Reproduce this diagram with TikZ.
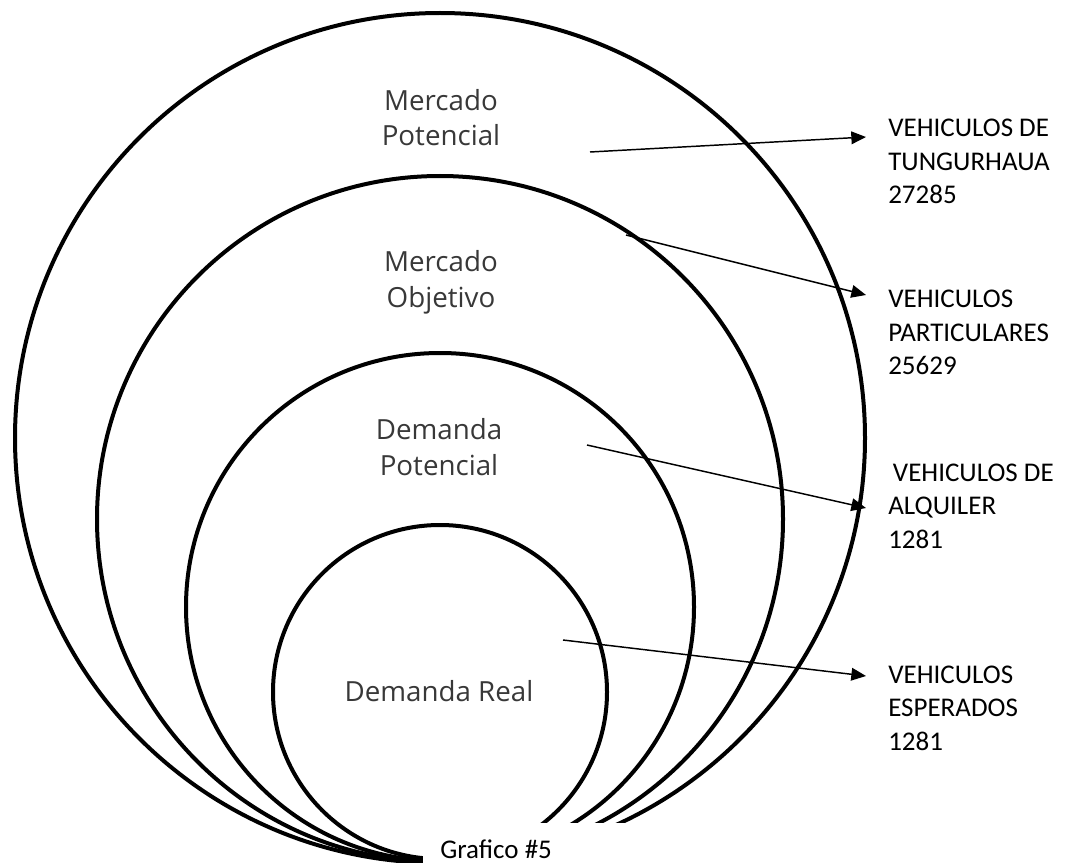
\documentclass[tikz,border=0pt]{standalone}
\usepackage{fontspec}
\setmainfont{Carlito}
\newfontfamily\ringfont{Open Sans}
\usetikzlibrary{arrows.meta}
\begin{document}
\begin{tikzpicture}[x=0.75pt,y=-0.75pt,
  ring/.style={line width=3pt},
  pointer/.style={line width=1.1pt,-{Triangle[length=11pt,width=9.5pt]}},
  ringlabel/.style={font=\ringfont\fontsize{20.8}{26.8}\selectfont, text=black!78,
    align=center, inner sep=0pt, anchor=base},
  sidelabel/.style={font=\fontsize{20.25}{25}\selectfont, align=left,
    inner sep=0pt, anchor=base west}]
\useasboundingbox (0,0) rectangle (1067,863);

% nested market circles, all touching at the bottom
\draw[ring] (440,438) circle[radius=425];
\draw[ring] (440,519) circle[radius=343];
\draw[ring] (440,607) circle[radius=254];
\draw[ring] (440,692) circle[radius=167];

% caption area hides the lower right of the rings
\fill[white] (423,823) rectangle (680,870);
\node[font=\fontsize{20.25}{24}\selectfont, inner sep=0pt, anchor=base west]
  (caption) at (440,858) {Grafico \#5};

% labels inside the rings (anchored on the last line's baseline)
\node[ringlabel] (mp) at (441,146) {Mercado\\Potencial};
\node[ringlabel] (mo) at (441,307.5) {Mercado\\Objetivo};
\node[ringlabel] (dp) at (439,475) {Demanda\\Potencial};
\node[ringlabel] (dr) at (439,701) {Demanda Real};

% figures on the right (anchored on the last line's baseline)
\node[sidelabel] (la) at (888,203.6) {VEHICULOS DE\\TUNGURHAUA\\27285};
\node[sidelabel] (lb) at (888,374.6) {VEHICULOS\\PARTICULARES\\25629};
\node[sidelabel] (lc) at (888,548.3) {\hspace*{3.5pt}VEHICULOS DE\\ALQUILER\\1281};
\node[sidelabel] (ld) at (888,750) {VEHICULOS\\ESPERADOS\\1281};

% pointer ends
\coordinate (s1) at (590,152);
\coordinate (e1) at (866,137);
\coordinate (s2) at (626,235);
\coordinate (e2) at (866,295);
\coordinate (s3) at (587,445);
\coordinate (e3) at (866,508);
\coordinate (s4) at (563,640);
\coordinate (e4) at (866,676);

\draw[pointer] (s1) -- (e1);
\draw[pointer] (s2) -- (e2);
\draw[pointer] (s3) -- (e3);
\draw[pointer] (s4) -- (e4);
\end{tikzpicture}
\end{document}
